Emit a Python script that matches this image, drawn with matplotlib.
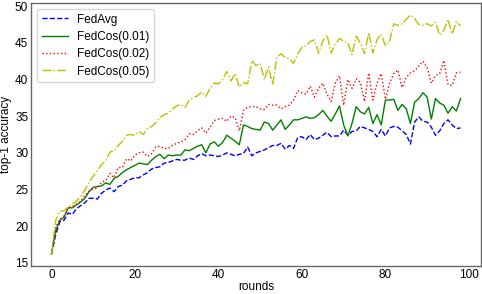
import matplotlib
matplotlib.use("Agg")
import matplotlib.pyplot as plt
import numpy as np

plt.rcParams['font.family'] = ['Liberation Sans', 'DejaVu Sans']
plt.rcParams['font.size'] = 8.5

# 정확도 데이터 (라운드 0..98)
rounds = np.arange(99)

fedavg = [
    16.2, 18.8, 20.6, 20.8, 21.8, 21.6, 22.4, 22.8, 23.2, 23.8,
    23.8, 23.7, 24.5, 24.9, 25.2, 24.7, 25.4, 25.6, 26.2, 26.4,
    26.6, 26.6, 27.0, 27.3, 27.8, 28.0, 28.1, 28.6, 28.7, 28.9,
    29.1, 29.0, 29.0, 29.3, 29.1, 29.6, 29.9, 29.6, 29.7, 29.6,
    29.5, 29.7, 30.0, 29.8, 29.6, 29.8, 29.9, 30.8, 29.6, 30.0,
    30.2, 30.4, 30.7, 31.0, 31.0, 31.3, 30.5, 31.0, 30.6, 32.1,
    32.2, 31.8, 32.5, 31.8, 32.0, 32.4, 32.8, 32.2, 32.3, 32.3,
    33.1, 32.4, 32.9, 33.0, 33.6, 33.4, 33.2, 32.9, 32.2, 33.2,
    32.3, 33.4, 33.6, 33.5, 33.0, 32.5, 31.2, 34.2, 34.9, 34.3,
    34.2, 33.5, 32.4, 33.0, 34.0, 34.5, 33.8, 33.3, 33.4,
]

fedcos_001 = [
    16.2, 19.4, 20.8, 21.2, 22.5, 22.5, 22.9, 23.3, 23.8, 24.7,
    25.3, 25.4, 25.5, 25.9, 25.7, 26.5, 26.8, 27.3, 27.7, 28.0,
    28.3, 28.6, 28.5, 28.4, 29.0, 29.5, 29.8, 29.2, 29.7, 29.6,
    29.7, 29.7, 30.4, 30.3, 30.6, 30.9, 31.1, 30.0, 31.2, 31.5,
    30.9, 31.4, 32.4, 32.0, 31.6, 31.1, 33.8, 33.6, 33.3, 33.2,
    33.1, 34.2, 34.0, 33.1, 33.8, 34.5, 33.2, 33.8, 34.5, 34.5,
    34.7, 34.9, 34.7, 34.8, 35.2, 35.8, 35.0, 34.3, 35.3, 36.4,
    33.8, 32.3, 34.0, 36.3, 35.6, 35.3, 36.2, 34.0, 35.2, 33.8,
    37.2, 37.2, 37.3, 35.8, 36.6, 36.0, 34.0, 36.9, 37.4, 38.2,
    37.6, 34.6, 37.4, 36.8, 36.5, 35.4, 36.3, 35.7, 37.4,
]

fedcos_002 = [
    16.2, 19.9, 20.9, 21.4, 22.5, 22.7, 23.0, 23.4, 24.2, 24.8,
    25.1, 25.2, 26.0, 26.2, 27.2, 26.6, 28.0, 28.0, 29.2, 28.9,
    29.7, 30.0, 30.1, 29.5, 29.9, 30.8, 30.9, 30.6, 30.6, 31.0,
    31.3, 31.5, 31.8, 32.6, 32.5, 33.0, 33.4, 32.7, 33.5, 34.4,
    34.6, 34.7, 34.3, 35.0, 34.8, 33.0, 35.8, 36.2, 36.3, 36.3,
    36.0, 35.9, 36.6, 36.5, 36.5, 36.0, 36.3, 36.5, 37.2, 38.5,
    38.2, 38.0, 39.1, 37.6, 38.8, 39.5, 38.0, 37.0, 39.5, 40.5,
    36.5, 40.0, 38.8, 40.1, 39.6, 37.0, 40.9, 37.2, 39.5, 40.8,
    37.3, 39.5, 40.8, 41.3, 38.9, 40.3, 40.9, 41.2, 41.8, 42.5,
    41.6, 39.5, 40.5, 40.8, 42.6, 39.3, 39.2, 40.9, 41.0,
]

fedcos_005 = [
    16.2, 20.8, 22.0, 22.1, 22.6, 23.0, 23.4, 24.1, 24.9, 26.0,
    26.8, 27.6, 28.4, 28.9, 30.1, 30.3, 31.0, 31.6, 32.4, 32.5,
    32.4, 32.9, 32.5, 33.3, 33.6, 34.1, 34.8, 35.2, 35.4, 36.0,
    36.4, 36.6, 36.2, 37.2, 37.5, 37.8, 38.3, 37.7, 38.8, 39.5,
    39.4, 40.0, 41.1, 39.8, 40.8, 39.0, 39.6, 39.4, 42.6, 41.9,
    42.2, 40.0, 41.7, 39.3, 43.0, 43.5, 43.0, 42.8, 42.2, 43.5,
    44.4, 44.6, 45.2, 45.4, 43.6, 45.2, 46.1, 43.6, 44.8, 45.6,
    45.2, 45.0, 43.4, 45.9, 45.0, 43.5, 46.4, 43.6, 45.4, 46.2,
    44.6, 45.2, 47.6, 47.4, 47.6, 48.2, 48.8, 48.3, 47.5, 47.4,
    47.6, 47.3, 47.8, 46.1, 46.7, 48.2, 46.2, 47.9, 47.3,
]

fig = plt.figure(figsize=(4.82, 2.94), dpi=100)
ax = fig.add_axes([0.0643, 0.0952, 0.9336, 0.8946])

ax.plot(rounds, fedavg, '--', color='b', lw=1.0, label='FedAvg')
ax.plot(rounds, fedcos_001, '-', color='g', lw=1.0, label='FedCos(0.01)')
ax.plot(rounds, fedcos_002, ':', color='r', lw=1.0, label='FedCos(0.02)')
ax.plot(rounds, fedcos_005, '-.', color='y', lw=1.0, label='FedCos(0.05)')

ax.set_xlabel('rounds', labelpad=0)
ax.set_ylabel('top-1 accuracy', labelpad=2)
ax.set_xticks([0, 20, 40, 60, 80, 100])
ax.set_yticks([15, 20, 25, 30, 35, 40, 45, 50])
ax.tick_params(length=0, pad=2)

for s in ax.spines.values():
    s.set_color('0.4')
    s.set_linewidth(1.0)

ax.legend(loc='upper left', handlelength=2.2, labelspacing=0.45,
          edgecolor='0.8', fancybox=True)

fig.savefig('out.png', dpi=100)
plt.close(fig)
